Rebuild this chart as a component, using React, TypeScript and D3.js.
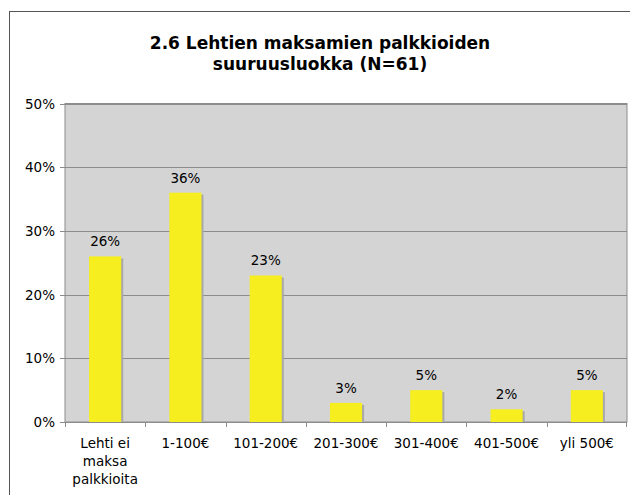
import React from 'react';
import * as d3 from 'd3';

const categories = ['Lehti ei maksa palkkioita', '1-100€', '101-200€', '201-300€', '301-400€', '401-500€', 'yli 500€'];
const categoryLines = [['Lehti ei', 'maksa', 'palkkioita'], ['1-100€'], ['101-200€'], ['201-300€'], ['301-400€'], ['401-500€'], ['yli 500€']];
const values = [26, 36, 23, 3, 5, 2, 5];
const yTicks = [0, 10, 20, 30, 40, 50];
const titleLines = ['2.6 Lehtien maksamien palkkioiden', 'suuruusluokka (N=61)'];

const W = 630;
const H = 495;
const plot = { left: 65, top: 103.5, right: 627, bottom: 422 };
const font = 'Verdana, "DejaVu Sans", sans-serif';

export default function App() {
  const x = d3.scaleBand().domain(categories).range([plot.left, plot.right]);
  const y = d3.scaleLinear().domain([0, 50]).range([plot.bottom, plot.top]);
  const barW = x.bandwidth() * 0.4;

  return (
    <svg width={W} height={H} style={{ position: 'absolute', left: 0, top: 0 }} fontFamily={font}>
      <rect x={0} y={0} width={W} height={H} fill="#fff" />
      <rect x={9.5} y={11.5} width={W + 10} height={H + 10} fill="#fff" stroke="#555" />
      {titleLines.map((t, i) => (
        <text key={t} x={320} y={49 + i * 21} textAnchor="middle" fontSize={17} fontWeight="bold" fill="#000">
          {t}
        </text>
      ))}
      <rect x={plot.left} y={plot.top} width={plot.right - plot.left} height={plot.bottom - plot.top} fill="#d4d4d4" stroke="#8c8c8c" />
      {yTicks.map(t => (
        <g key={t}>
          <line x1={plot.left - 5} x2={plot.right} y1={Math.round(y(t)) + 0.5} y2={Math.round(y(t)) + 0.5} stroke="#8c8c8c" />
          <text x={55} y={y(t) + 5} textAnchor="end" fontSize={13.5} fill="#000">{t}%</text>
        </g>
      ))}
      {categories.map(c => (
        <line key={c} x1={Math.round(x(c)!) + 0.5} x2={Math.round(x(c)!) + 0.5} y1={plot.bottom} y2={plot.bottom + 5} stroke="#8c8c8c" />
      ))}
      <line x1={plot.right - 0.5} x2={plot.right - 0.5} y1={plot.bottom} y2={plot.bottom + 5} stroke="#8c8c8c" />
      {categories.map((c, i) => {
        const cx = x(c)! + x.bandwidth() / 2;
        const top = y(values[i]);
        return (
          <g key={c}>
            <rect x={cx - barW / 2 + 2} y={top + 2} width={barW} height={plot.bottom - top - 2} fill="#a8a8a8" />
            <rect x={cx - barW / 2} y={top} width={barW} height={plot.bottom - top} fill="#f6ee1e" />
            <text x={cx} y={top - 10} textAnchor="middle" fontSize={13.5} fill="#000">{values[i]}%</text>
            {categoryLines[i].map(l => (
              <text key={l} x={cx} y={448 + categoryLines[i].indexOf(l) * 18} textAnchor="middle" fontSize={13.5} fill="#000">{l}</text>
            ))}
          </g>
        );
      })}
    </svg>
  );
}
